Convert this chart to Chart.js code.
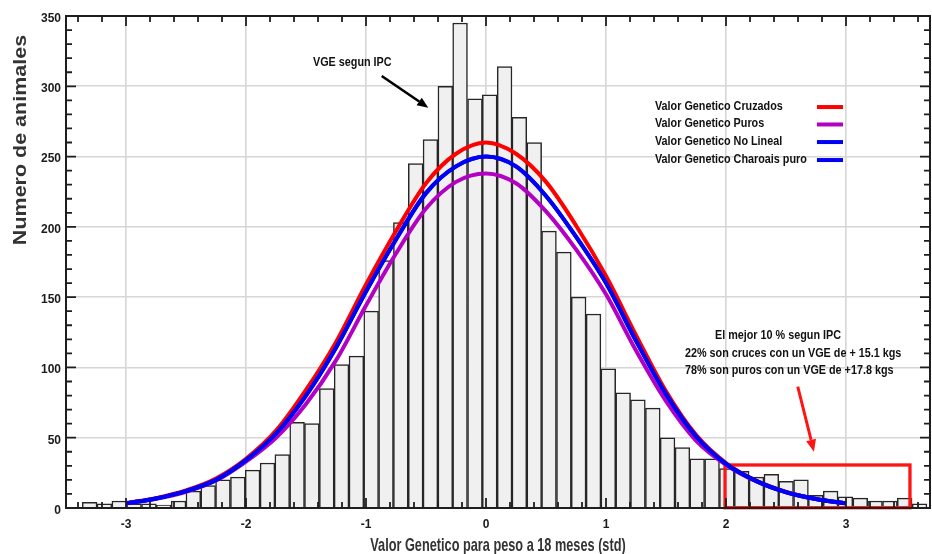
<!DOCTYPE html>
<html><head><meta charset="utf-8">
<script src="https://cdn.jsdelivr.net/npm/chart.js@4.4.0/dist/chart.umd.min.js"></script>
<style>html,body{margin:0;padding:0;background:#fff;}#wrap{width:932px;height:554px;}</style>
</head><body><div id="wrap"><canvas id="c" width="932" height="554"></canvas></div>
<script>
// ---------- data ----------
const binCenters = [-3.303,-3.180,-3.056,-2.933,-2.809,-2.686,-2.562,-2.439,-2.315,-2.192,
  -2.068,-1.945,-1.821,-1.698,-1.574,-1.451,-1.327,-1.204,-1.080,-0.957,
  -0.833,-0.710,-0.586,-0.463,-0.339,-0.216,-0.092,0.031,0.155,0.278,
  0.402,0.525,0.649,0.772,0.896,1.019,1.143,1.266,1.390,1.513,
  1.637,1.760,1.884,2.007,2.131,2.254,2.378,2.501,2.625,2.748,
  2.872,2.995,3.119,3.242,3.366,3.489,3.613];
const binCounts = [4,3,5,3,3,2,5,12,16,20,
  22,27,32,38,61,60,85,102,108,140,
  176,203,245,262,300,345,291,294,314,278,
  260,197,182,150,138,99,82,77,71,50,
  43,35,35,28,26,22,24,19,20,9,
  12,8,7,5,5,7,3];
const curveX = [-3,-2.75,-2.5,-2.25,-2,-1.75,-1.5,-1.25,-1,-0.75,-0.5,-0.25,0,0.25,0.5,0.75,1,1.25,1.5,1.75,2,2.25,2.5,2.75,3];
const curveCruzados = [3.5,7,12.5,21,35,55,84,118,159,197,231,252,260,252,232,201,165,123,83,52,32,19.5,11.5,6.5,3.3];
const curvePuros    = [3.2,6.5,11.5,19.5,33,50,74,105,144,181,213,232,238,231,211,184,152,112,76,48,30.7,19,11.2,6.3,3.2];
const curveNoLineal = [3.3,6.8,12,20,34,53,80,114,154,191,224,243,250,243,222,193,160,119,81,51,31.4,19.3,11.3,6.4,3.3];
const curveCharolais = [3.3,6.8,12,20,34,53,80,114,154,191,224,243,250,243,222,193,160,119,81,51,31.4,19.3,11.3,6.4,3.3];
const xTickValues = [-3,-2,-1,0,1,2,3];
const xTickLabels = ['-3','-2','-1','0','1','2','3'];
const yTickValues = [0,50,100,150,200,250,300,350];
const yTickLabels = ['0','50','100','150','200','250','300','350'];
const seriesLabels = ['Valor Genetico Cruzados','Valor Genetico Puros','Valor Genetico No Lineal','Valor Genetico Charoais puro'];
const noteLines = ['El mejor 10 % segun IPC','22% son cruces con un VGE de + 15.1 kgs','78% son puros con un VGE de +17.8 kgs'];
const arrowText = 'VGE segun IPC';
const xTitle = 'Valor Genetico para peso a 18 meses (std)';
const yTitle = 'Numero de animales';

// ---------- layout / style (data units for anchors) ----------
const seriesColors = ['#ff0000','#b300c3','#0000f5','#0000f5'];
const legendPos = {x: 1.408, baselines: [283.1, 270.7, 258.2, 245.4], lineX1: 2.758, lineX2: 2.975};
const arrowLabelPos = {x: -1.442, y: 314.6};
const blackArrow = {x1: -0.869, y1: 307.3, x2: -0.481, y2: 284.8};
const notePos = {xs: [1.908, 1.658, 1.658], ys: [119.9, 107.4, 95.0]};
const redArrow = {x1: 2.598, y1: 86.3, x2: 2.733, y2: 40.1};
const highlightBox = {x1: 1.992, x2: 3.533, y1: 0.2, y2: 30.6};
const FONT = '"Liberation Sans", Arial, sans-serif';

function txt(ctx, s, x, y, size, sx, align, color) {
  ctx.save();
  ctx.font = 'bold ' + size + 'px ' + FONT;
  ctx.fillStyle = color; ctx.textBaseline = 'alphabetic'; ctx.textAlign = 'left';
  const w = ctx.measureText(s).width * sx;
  const x0 = align === 'center' ? x - w / 2 : (align === 'right' ? x - w : x);
  ctx.translate(x0, y); ctx.scale(sx, 1); ctx.fillText(s, 0, 0);
  ctx.restore();
}
function arrow(ctx, x1, y1, x2, y2, color, w, head) {
  const a = Math.atan2(y2 - y1, x2 - x1);
  const bx = x2 - head * Math.cos(a), by = y2 - head * Math.sin(a);
  ctx.save();
  ctx.strokeStyle = color; ctx.fillStyle = color; ctx.lineWidth = w; ctx.lineCap = 'butt';
  ctx.beginPath(); ctx.moveTo(x1, y1); ctx.lineTo(bx, by); ctx.stroke();
  const hw = head * 0.42;
  ctx.beginPath(); ctx.moveTo(x2, y2);
  ctx.lineTo(bx + hw * Math.sin(a), by - hw * Math.cos(a));
  ctx.lineTo(bx - hw * Math.sin(a), by + hw * Math.cos(a));
  ctx.closePath(); ctx.fill();
  ctx.restore();
}

const deco = {
  id: 'deco',
  afterDatasetDraw(chart, args) {
    if (args.meta.type !== 'bar') return;
    const {ctx} = chart, x = chart.scales.x, y = chart.scales.y;
    const X1 = x.getPixelForValue(highlightBox.x1), X2 = x.getPixelForValue(highlightBox.x2);
    const Y1 = y.getPixelForValue(highlightBox.y1), Y2 = y.getPixelForValue(highlightBox.y2);
    ctx.save(); ctx.strokeStyle = '#ff1414'; ctx.lineWidth = 3.3;
    ctx.strokeRect(X1, Y2, X2 - X1, Y1 - Y2); ctx.restore();
  },
  afterDraw(chart) {
    const {ctx, chartArea: a} = chart, x = chart.scales.x, y = chart.scales.y;
    // frame
    ctx.save();
    ctx.strokeStyle = '#1e1e1e'; ctx.lineWidth = 2;
    ctx.strokeRect(a.left, a.top, a.right - a.left, a.bottom - a.top);
    // inward ticks
    ctx.lineWidth = 1.8;
    ctx.beginPath();
    for (let v = -34; v <= 36; v += 2) {
      const px = x.getPixelForValue(v / 10), len = (v % 10 === 0) ? 10 : 6;
      ctx.moveTo(px, a.bottom); ctx.lineTo(px, a.bottom - len);
      ctx.moveTo(px, a.top); ctx.lineTo(px, a.top + len);
    }
    for (let v = 0; v <= 350; v += 10) {
      const py = y.getPixelForValue(v), len = (v % 50 === 0) ? 10 : 6;
      ctx.moveTo(a.left, py); ctx.lineTo(a.left + len, py);
      ctx.moveTo(a.right, py); ctx.lineTo(a.right - len, py);
    }
    ctx.stroke();
    ctx.restore();
    // legend
    const ds = chart.data.datasets.filter(d => d.type === 'line');
    seriesLabels.forEach((lab, i) => {
      const by = y.getPixelForValue(legendPos.baselines[i]);
      txt(ctx, lab, x.getPixelForValue(legendPos.x), by, 12, 0.9, 'left', '#111');
      const d = ds.find(q => q.label === lab);
      ctx.save(); ctx.strokeStyle = d ? d.borderColor : seriesColors[i]; ctx.lineWidth = 4;
      ctx.beginPath(); ctx.moveTo(x.getPixelForValue(legendPos.lineX1), by - 3); ctx.lineTo(x.getPixelForValue(legendPos.lineX2), by - 3); ctx.stroke();
      ctx.restore();
    });
    // annotations
    txt(ctx, arrowText, x.getPixelForValue(arrowLabelPos.x), y.getPixelForValue(arrowLabelPos.y), 12, 0.9, 'left', '#111');
    arrow(ctx, x.getPixelForValue(blackArrow.x1), y.getPixelForValue(blackArrow.y1), x.getPixelForValue(blackArrow.x2), y.getPixelForValue(blackArrow.y2), '#000', 2.6, 11);
    noteLines.forEach((s, i) => txt(ctx, s, x.getPixelForValue(notePos.xs[i]), y.getPixelForValue(notePos.ys[i]), 12, 0.9, 'left', '#111'));
    arrow(ctx, x.getPixelForValue(redArrow.x1), y.getPixelForValue(redArrow.y1), x.getPixelForValue(redArrow.x2), y.getPixelForValue(redArrow.y2), '#ff1414', 3, 12);
    // axis titles
    txt(ctx, xTitle, (a.left + a.right) / 2, 551, 19, 0.67, 'center', '#333');
    ctx.save();
    ctx.font = 'bold 21.5px ' + FONT; ctx.fillStyle = '#333'; ctx.textAlign = 'center'; ctx.textBaseline = 'alphabetic';
    ctx.translate(26, (a.top + a.bottom) / 2 - 122);
    ctx.rotate(-Math.PI / 2); ctx.scale(1, 0.85);
    ctx.fillText(yTitle, 0, 0);
    ctx.restore();
  }
};

const lineDs = (label, vals, color, order) => ({
  type: 'line', label, data: curveX.map((v, i) => ({x: v, y: vals[i]})),
  borderColor: color, borderWidth: 4, pointRadius: 0, fill: false,
  cubicInterpolationMode: 'monotone', order
});

new Chart(document.getElementById('c'), {
  type: 'bar',
  data: {
    datasets: [
      lineDs(seriesLabels[3], curveCharolais, seriesColors[3], 0),
      lineDs(seriesLabels[2], curveNoLineal, seriesColors[2], 1),
      lineDs(seriesLabels[0], curveCruzados, seriesColors[0], 2),
      lineDs(seriesLabels[1], curvePuros, seriesColors[1], 3),
      {type: 'bar', label: 'Numero de animales', data: binCenters.map((v, i) => ({x: v, y: binCounts[i]})),
       backgroundColor: '#f0f0f0', borderColor: '#262626', borderWidth: 1.5,
       barPercentage: 1, categoryPercentage: 1, order: 10}
    ]
  },
  options: {
    responsive: false, animation: false, devicePixelRatio: 1,
    layout: {padding: {top: 16, right: 2, left: 0, bottom: 0}},
    plugins: {legend: {display: false}, tooltip: {enabled: false}, title: {display: false}},
    scales: {
      x: {
        type: 'linear', min: -3.5, max: 3.7, offset: false,
        afterBuildTicks: s => { s.ticks = xTickValues.map(v => ({value: v})); },
        afterFit: s => { s.height = 46; },
        ticks: {callback: (v, i) => xTickLabels[i], autoSkip: false, maxRotation: 0, padding: 9,
                color: '#1a1a1a', font: {family: FONT, size: 12, weight: 'bold'}},
        grid: {color: '#d6d6d6', lineWidth: 1.6, drawTicks: false, offset: false},
        border: {display: false}
      },
      y: {
        type: 'linear', min: 0, max: 350,
        afterBuildTicks: s => { s.ticks = yTickValues.map(v => ({value: v})); },
        afterFit: s => { s.width = 66; },
        ticks: {callback: (v, i) => yTickLabels[i], padding: 5, labelOffset: 2.5,
                color: '#1a1a1a', font: {family: FONT, size: 12, weight: 'bold'}},
        grid: {color: '#d6d6d6', lineWidth: 1.6, drawTicks: false},
        border: {display: false}
      }
    }
  },
  plugins: [deco]
});
</script></body></html>
